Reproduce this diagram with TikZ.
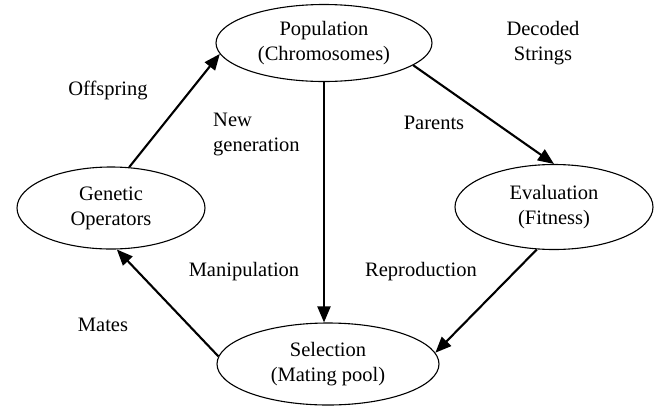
\documentclass[tikz,border=0pt]{standalone}
\usepackage{fontspec}
\newfontfamily\timesfont{Liberation Serif}
\usetikzlibrary{shapes.geometric,arrows.meta}
\begin{document}
\begin{tikzpicture}[x=1pt,y=-1pt,
  every node/.style={font=\timesfont\fontsize{20.5}{25}\selectfont},
  stage/.style={ellipse,draw,line width=1.1pt,inner sep=0pt,align=center},
  flow/.style={line width=2.1pt,-{Triangle[length=16pt,width=13pt]}},
  lbl/.style={align=center,inner sep=0pt}]
\fill[white] (0,0) rectangle (662,408);
\useasboundingbox (0,0) rectangle (662,408);
\node[stage,minimum width=216pt,minimum height=77pt] (pop) at (324,43) {Population\\(Chromosomes)};
\node[stage,minimum width=188pt,minimum height=82pt] (gen) at (111,208) {Genetic\\Operators};
\node[stage,minimum width=198pt,minimum height=85pt] (eval) at (554,207) {Evaluation\\(Fitness)};
\node[stage,minimum width=222pt,minimum height=82pt] (sel) at (328,364) {Selection\\(Mating pool)};
\draw[flow] (gen.66) -- (pop.186);
\draw[flow] (pop.-14) -- (eval.90);
\draw[flow] (pop.south) -- (pop.south |- sel.north);
\draw[flow] (eval.248) -- (sel.6);
\draw[flow] (sel.176) -- (gen.-82);
\node[lbl] (l1) at (108,90) {Offspring};
\node[lbl] (l2) at (543,43) {Decoded\\Strings};
\node[lbl,align=left,anchor=west] (l3) at (213,134) {New\\generation};
\node[lbl] (l4) at (434,123) {Parents};
\node[lbl] (l5) at (244,272) {Manipulation};
\node[lbl] (l6) at (421,272) {Reproduction};
\node[lbl] (l7) at (103,325) {Mates};
\end{tikzpicture}
\end{document}
